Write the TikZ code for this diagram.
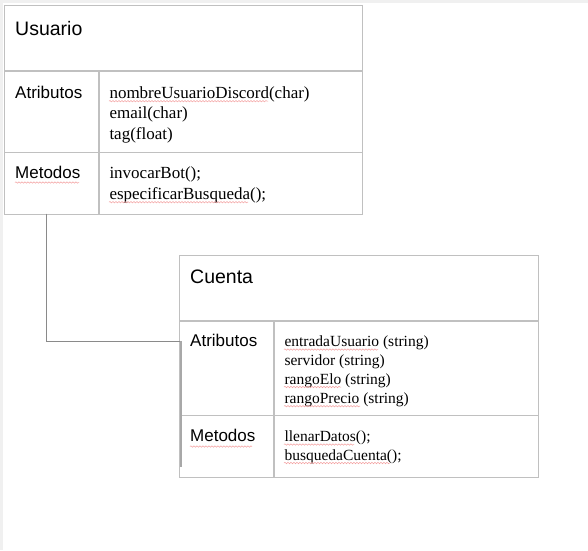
\documentclass[tikz,border=0pt]{standalone}
\usepackage{fontspec}
\setmainfont{Liberation Serif}
\newfontfamily\arialf{Liberation Sans}
\usetikzlibrary{decorations.pathmorphing}
\definecolor{borde}{HTML}{C0C0C0}
\definecolor{conec}{HTML}{8A8A8A}
\definecolor{barra}{HTML}{A8A8A8}
\definecolor{ondarojo}{HTML}{F4A0A0}
\definecolor{fondogris}{HTML}{F0F0F0}
\tikzset{
  tabla/.style={draw=borde, line width=1.4pt},
  regla/.style={draw=borde, line width=1.4pt},
  titulo/.style={anchor=base west, inner sep=0pt, font=\arialf\fontsize{19.5}{23}\selectfont},
  etiqueta/.style={anchor=base west, inner sep=0pt, font=\arialf\fontsize{17}{20}\selectfont},
  campoA/.style={anchor=base west, inner sep=0pt, font=\fontsize{17}{20}\selectfont},
  campoB/.style={anchor=base west, inner sep=0pt, font=\fontsize{15.5}{18.5}\selectfont},
  onda/.style={draw=ondarojo, line width=0.5pt, decorate, decoration={snake, amplitude=0.7pt, segment length=3pt}},
  conector/.style={draw=conec, line width=1pt},
  barraconector/.style={draw=barra, line width=1.8pt}
}
\begin{document}
\begin{tikzpicture}[x=1pt,y=-1pt]
\useasboundingbox (0,0) rectangle (588,550);
\fill[white] (0,0) rectangle (588,550);
\fill[fondogris] (0,0) rectangle (588,3);
\fill[fondogris] (0,0) rectangle (3,550);

% Usuario table
\node[tabla, anchor=north west, minimum width=358pt, minimum height=208.5pt, inner sep=0pt] (usuario) at (4,5) {};
\draw[regla] (4,71) -- (362,71);
\draw[regla] (4,152.5) -- (362,152.5);
\draw[regla] (99,71) -- (99,213.5);

\node[titulo] (utit) at (15,35) {Usuario};
\node[etiqueta] (uatr) at (15,98.5) {Atributos};
\node[etiqueta] (umet) at (15,178.3) {Metodos};
\node[campoA] (ua1) at (109.3,98.3) {nombreUsuarioDiscord(char)};
\node[campoA] (ua2) at (109.3,118.6) {email(char)};
\node[campoA] (ua3) at (109.3,139) {tag(float)};
\node[campoA] (um1) at (109.3,178.3) {invocarBot();};
\node[campoA] (um2) at (109.3,199) {especificarBusqueda();};

% Cuenta table
\node[tabla, anchor=north west, minimum width=358.5pt, minimum height=221.5pt, inner sep=0pt] (cuenta) at (179,255) {};
\draw[regla] (179,321) -- (537.5,321);
\draw[regla] (179,415.5) -- (537.5,415.5);
\draw[regla] (274,321) -- (274,476.5);

\node[titulo] (ctit) at (190,283.3) {Cuenta};
\node[etiqueta] (catr) at (190,346.7) {Atributos};
\node[etiqueta] (cmet) at (190,441.7) {Metodos};
\node[campoB] (ca1) at (284.3,346.7) {entradaUsuario (string)};
\node[campoB] (ca2) at (284.3,365.3) {servidor (string)};
\node[campoB] (ca3) at (284.3,384) {rangoElo (string)};
\node[campoB] (ca4) at (284.3,403.3) {rangoPrecio (string)};
\node[campoB] (cm1) at (284.3,441.7) {llenarDatos();};
\node[campoB] (cm2) at (284.3,460) {busquedaCuenta();};

% spell-check underlines
\draw[onda] (15,182.5) -- (79,182.5);
\draw[onda] (109,101.2) -- (268,101.2);
\draw[onda] (109,202.2) -- (248,202.2);
\draw[onda] (190,446.5) -- (252,446.5);
\draw[onda] (284,349.5) -- (378,349.5);
\draw[onda] (284,387) -- (341,387);
\draw[onda] (284,406.2) -- (360,406.2);
\draw[onda] (284,444.5) -- (354,444.5);
\draw[onda] (284,463) -- (390,463);

% connector
\coordinate (c1) at (46.3,213.5);
\coordinate (c2) at (46.3,341);
\coordinate (c3) at (181,341);
\coordinate (c4) at (181,467);
\draw[conector] (c1) -- (c2) -- (c3);
\draw[barraconector] (c3) -- (c4);
\end{tikzpicture}
\end{document}
